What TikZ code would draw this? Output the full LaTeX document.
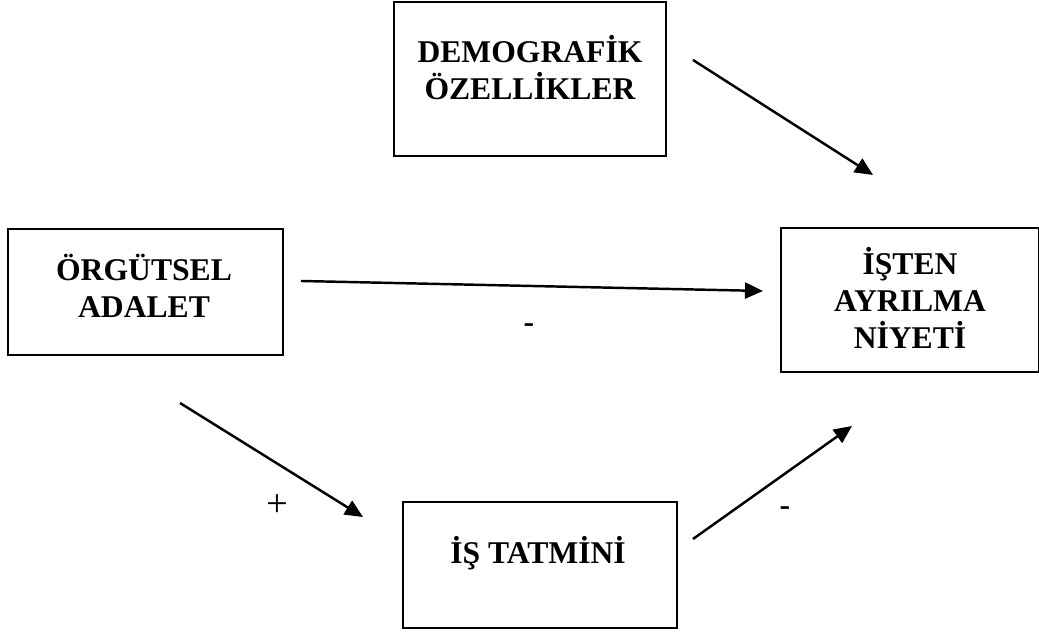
\documentclass[tikz,border=0pt]{standalone}
\usepackage{fontspec}
\setmainfont{Liberation Serif}
\usepackage{tikz}
\usetikzlibrary{arrows.meta,positioning}

\begin{document}
\begin{tikzpicture}[
  box/.style={
    rectangle,
    draw=black,
    line width=1.2pt,
    fill=white
  },
  boxtext/.style={
    align=center,
    font=\bfseries\fontsize{18}{21}\selectfont
  },
  sign/.style={
    font=\fontsize{22}{24}\selectfont
  }
]
\useasboundingbox (0,0) rectangle (20.78,12.74);

% Boxes
\node[box, minimum width=5.44cm, minimum height=3.08cm] (demo) at (10.60,11.16) {};
\node[box, minimum width=5.50cm, minimum height=2.52cm] (adalet) at (2.91,6.90) {};
\node[box, minimum width=5.16cm, minimum height=2.88cm] (niyet) at (18.20,6.74) {};
\node[box, minimum width=5.48cm, minimum height=2.52cm] (tatmin) at (10.80,1.44) {};

% Box texts
\node[boxtext] (demotxt) at (10.60,11.39) {DEMOGRAFİK\\ÖZELLİKLER};
\node[boxtext] (adalettxt) at (2.88,7.03) {ÖRGÜTSEL\\ADALET};
\node[boxtext] (niyettxt) at (18.20,6.78) {İŞTEN\\AYRILMA\\NİYETİ};
\node[boxtext] (tatmintxt) at (10.76,1.68) {İŞ TATMİNİ};

% Arrow ends
\coordinate (demoout) at (13.86,11.54);
\coordinate (niyetin1) at (17.46,9.24);
\coordinate (adaletout1) at (6.02,7.12);
\coordinate (niyetin2) at (15.26,6.92);
\coordinate (adaletout2) at (3.60,4.68);
\coordinate (tatminin) at (7.26,2.40);
\coordinate (tatminout) at (13.86,1.96);
\coordinate (niyetin3) at (17.04,4.22);

% Connections
\draw[line width=1.4pt, -{Triangle[length=0.36cm, width=0.32cm]}] (demoout) -- (niyetin1);
\draw[line width=1.4pt, -{Triangle[length=0.36cm, width=0.32cm]}] (adaletout1) -- (niyetin2);
\draw[line width=1.4pt, -{Triangle[length=0.36cm, width=0.32cm]}] (adaletout2) -- (tatminin);
\draw[line width=1.4pt, -{Triangle[length=0.36cm, width=0.32cm]}] (tatminout) -- (niyetin3);

% Signs
\node[sign, font=\bfseries\fontsize{18}{21}\selectfont] (minus1) at (10.58,6.18) {-};
\node[sign] (plus) at (5.54,2.62) {+};
\node[sign, font=\bfseries\fontsize{18}{21}\selectfont] (minus2) at (15.70,2.52) {-};

\end{tikzpicture}
\end{document}
